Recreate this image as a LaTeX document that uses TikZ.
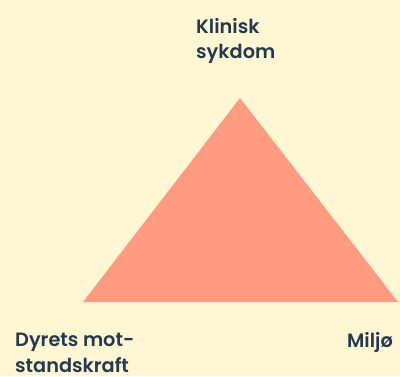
\documentclass[tikz,border=0pt]{standalone}
\usepackage{fontspec}
\setmainfont{Poppins}[BoldFont={* SemiBold}]
\definecolor{bgcream}{HTML}{FFF6D4}
\definecolor{trisalmon}{HTML}{FF9B80}
\definecolor{labelnavy}{HTML}{24394F}
\tikzset{
  corner label/.style={text=labelnavy, font=\bfseries\fontsize{19.3}{25.5}\selectfont,
    inner sep=0pt, align=left, anchor=base west},
}
\begin{document}
\begin{tikzpicture}[x=1pt,y=1pt]
	% background
	\fill[bgcream] (0,0) rectangle (400,376);
	\useasboundingbox (0,0) rectangle (400,376);
	
	% triangle corners
	\coordinate (Top)   at (240,278);
	\coordinate (Left)  at (83,74);
	\coordinate (Right) at (398,74);
	\fill[trisalmon] (Left) -- (Top) -- (Right) -- cycle;
	
	% labels (base = baseline of last line)
	\node[corner label] (sykdom) at (196,317.5) {Klinisk\\sykdom};
	\node[corner label] (dyr) at (15,4) {Dyrets mot-\\standskraft};
	\node[corner label, anchor=base east] (miljo) at (393,29) {Miljø};
\end{tikzpicture}
\end{document}
